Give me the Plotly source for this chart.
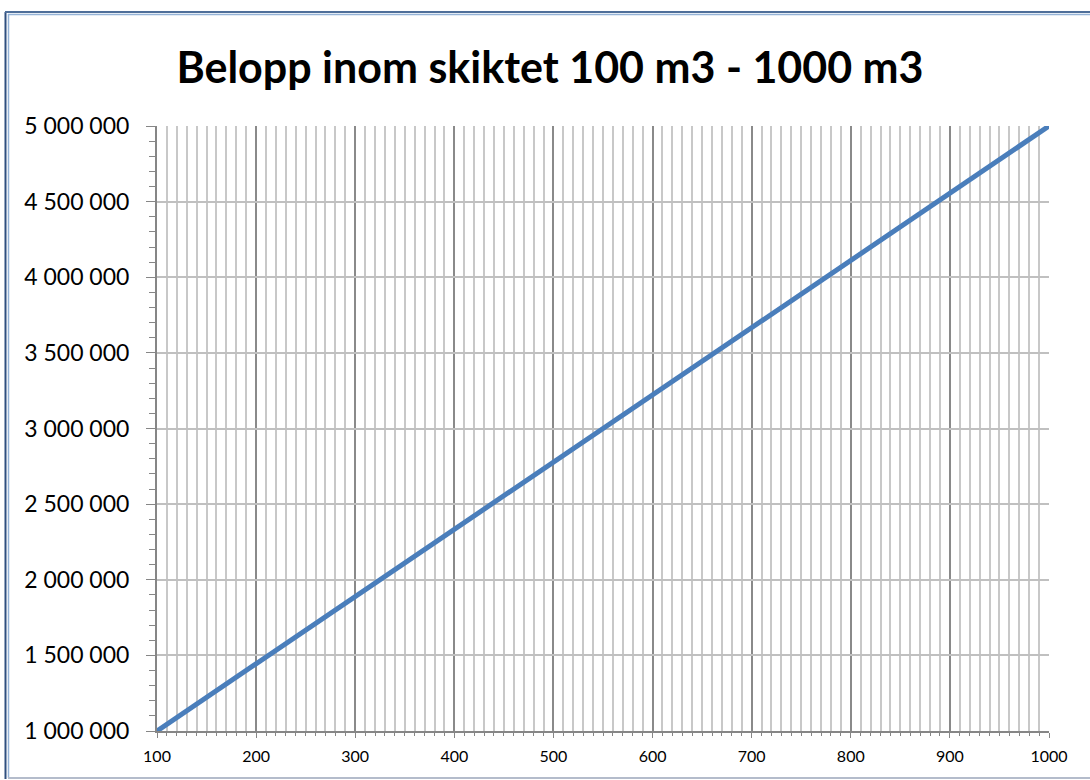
import plotly.graph_objects as go

volume_m3 = [100, 200, 300, 400, 500, 600, 700, 800, 900, 1000]
belopp = [1000000, 1444444, 1888889, 2333333, 2777778, 3222222, 3666667, 4111111, 4555556, 5000000]
title_text = "Belopp inom skiktet 100 m3 - 1000 m3"

W, H = 1090, 780
L, R, T, B = 157, 41, 126, 49
PW, PH = W - L - R, H - T - B

def px(x):
    return (x - L) / PW

def py(y):
    return (H - B - y) / PH

fig = go.Figure()
fig.add_trace(go.Scatter(
    x=volume_m3, y=belopp, mode="lines",
    line=dict(color="#4a7ebb", width=5),
    hoverinfo="skip", showlegend=False,
))

font = "Lato, 'Open Sans', sans-serif"

fig.update_layout(
    width=W, height=H,
    margin=dict(l=L, r=R, t=T, b=B, autoexpand=False),
    paper_bgcolor="white", plot_bgcolor="white",
    separators=", ",
    title=dict(text=f"<b>{title_text}</b>", x=px(550), xref="paper", xanchor="center",
               y=1 - 68 / H, yanchor="middle",
               font=dict(family=font, size=43, color="black")),
    xaxis=dict(
        range=[100, 1000], dtick=100, tick0=0, tickformat="d",
        showgrid=True, gridcolor="#8a8a8a", gridwidth=2,
        showline=True, linecolor="#868686", linewidth=2,
        ticks="outside", ticklen=5, tickcolor="#868686", tickwidth=1,
        ticklabelstandoff=5,
        tickfont=dict(family=font, size=16, color="black"),
        minor=dict(dtick=10, tick0=0, showgrid=True, gridcolor="#c8c8c8", gridwidth=2,
                   ticks="outside", ticklen=3, tickcolor="#868686", tickwidth=1),
        zeroline=False, fixedrange=True,
    ),
    yaxis=dict(
        range=[1000000, 5000000], dtick=500000, tick0=0, tickformat=",d",
        showgrid=True, gridcolor="#c0c0c0", gridwidth=2,
        showline=True, linecolor="#868686", linewidth=2,
        ticks="outside", ticklen=9, tickcolor="#868686", tickwidth=1,
        ticklabelstandoff=12,
        tickfont=dict(family=font, size=23, color="black"),
        minor=dict(dtick=100000, tick0=0, showgrid=False,
                   ticks="outside", ticklen=6, tickcolor="#868686", tickwidth=1),
        zeroline=False, fixedrange=True,
    ),
)

shapes = []
# outer chart border (extends beyond right edge)
shapes.append(dict(type="line", xref="paper", yref="paper", x0=px(5.5), x1=px(5.5), y0=py(12), y1=py(779),
                   line=dict(color="#2f4f7f", width=2)))
shapes.append(dict(type="line", xref="paper", yref="paper", x0=px(8.5), x1=px(8.5), y0=py(14), y1=py(778),
                   line=dict(color="#95b3d7", width=1.5)))
shapes.append(dict(type="line", xref="paper", yref="paper", x0=px(5), x1=px(1100), y0=py(12), y1=py(12),
                   line=dict(color="#4f6f9a", width=2)))
shapes.append(dict(type="line", xref="paper", yref="paper", x0=px(8), x1=px(1100), y0=py(14.5), y1=py(14.5),
                   line=dict(color="#95b3d7", width=1.5)))
shapes.append(dict(type="line", xref="paper", yref="paper", x0=px(8), x1=px(1100), y0=py(778), y1=py(778),
                   line=dict(color="#b4bccb", width=2)))
fig.update_layout(shapes=shapes)

fig.write_html("out.html", config=dict(displayModeBar=False),
               post_script="document.body.style.margin='0';document.body.style.overflow='hidden';")
